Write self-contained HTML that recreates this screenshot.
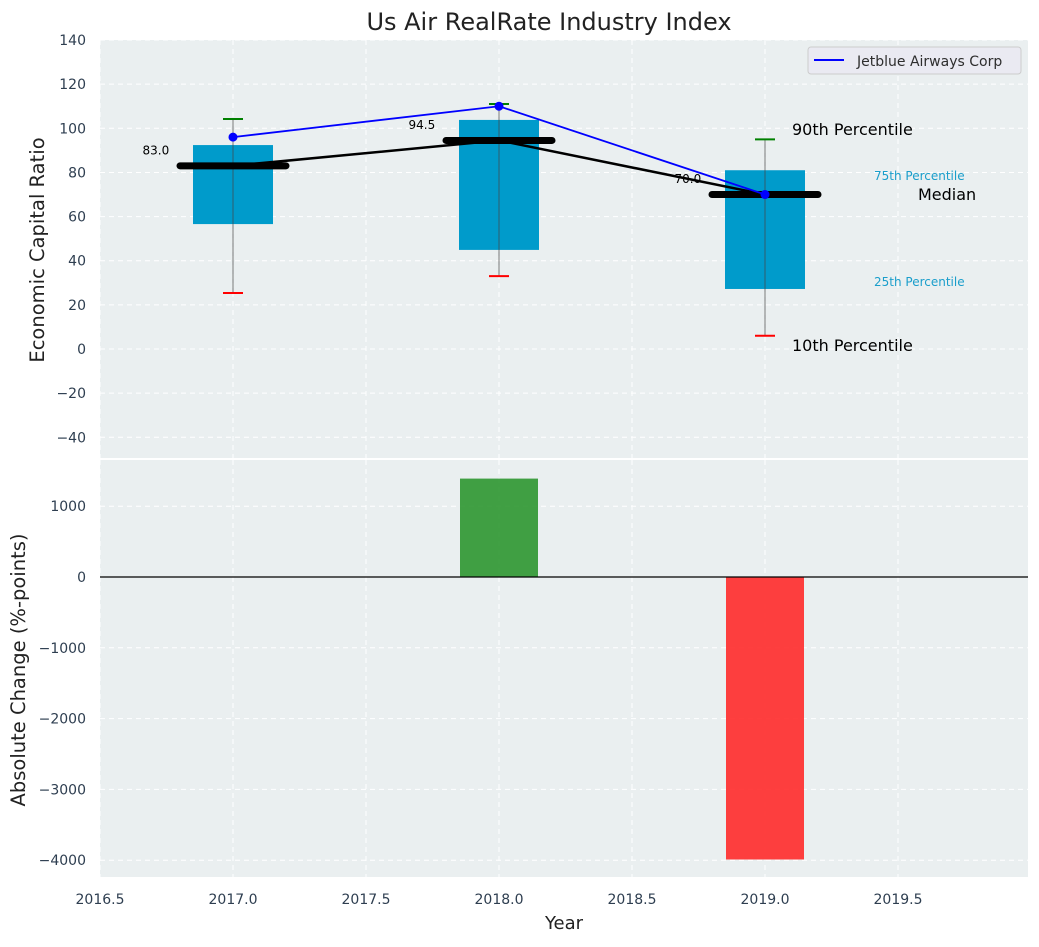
<!DOCTYPE html>
<html><head><meta charset="utf-8"><style>
body{margin:0;background:#fff;font-family:"Liberation Sans","DejaVu Sans",sans-serif}
svg text{font-family:"DejaVu Sans","Liberation Sans",sans-serif}
</style></head><body>
<svg id="c" width="1039" height="942" xmlns="http://www.w3.org/2000/svg"></svg>
<script>
const years=[2017,2018,2019];
const p10=[25.4,33,6];
const p25=[56.6,44.9,27.2];
const p50=[83,94.5,70];
const p75=[92.4,103.8,81];
const p90=[104.2,111,95];
const company=[96,110,70];
const change=[0,1390,-3990];
const topTicks=[-40,-20,0,20,40,60,80,100,120,140];
const botTicks=[-4000,-3000,-2000,-1000,0,1000];
const xTicks=[2016.5,2017,2017.5,2018,2018.5,2019,2019.5];

const svg=document.getElementById('c');const NS='http://www.w3.org/2000/svg';
function el(t,a,txt,parent){const e=document.createElementNS(NS,t);for(const k in a)e.setAttribute(k,a[k]);if(txt!==undefined)e.textContent=txt;(parent||svg).appendChild(e);return e;}
const L=100,R=1028;
const X=v=>L+(v-2016.5)*266;
const T1=40,B1=458,Y1=v=>349-v*2.207;
const T2=460,B2=877,Y2=v=>577-v*0.0708;

let e=el('rect',{x:L,y:T1,width:R-L,height:B1-T1,fill:'#eaeff0'});

e=el('rect',{x:L,y:T2,width:R-L,height:B2-T2,fill:'#eaeff0'});


xTicks.forEach(v=>{
 el('line',{x1:X(v),x2:X(v),y1:T1,y2:B1,stroke:'#fff','stroke-dasharray':'5,4','stroke-width':1});
 el('line',{x1:X(v),x2:X(v),y1:T2,y2:B2,stroke:'#fff','stroke-dasharray':'5,4','stroke-width':1});
 e=el('text',{x:X(v),y:904,'text-anchor':'middle','font-size':14,fill:'#2e3e50'},v.toFixed(1));
 
});
topTicks.forEach(v=>{
 el('line',{x1:L,x2:R,y1:Y1(v),y2:Y1(v),stroke:'#fff','stroke-dasharray':'5,4'});
 e=el('text',{x:L-14,y:Y1(v)+5,'text-anchor':'end','font-size':14,fill:'#2e3e50'},v<0?'\u2212'+(-v):v);
 
});
botTicks.forEach(v=>{
 el('line',{x1:L,x2:R,y1:Y2(v),y2:Y2(v),stroke:'#fff','stroke-dasharray':'5,4'});
 e=el('text',{x:L-14,y:Y2(v)+5,'text-anchor':'end','font-size':14,fill:'#2e3e50'},v<0?'\u2212'+(-v):v);
 
});

years.forEach((yr,i)=>{
 const cx=X(yr);
 e=el('rect',{x:cx-40,y:Y1(p75[i]),width:80,height:Y1(p25[i])-Y1(p75[i]),fill:'#009bcb'});
 
 el('line',{x1:cx,x2:cx,y1:Y1(p90[i]),y2:Y1(p10[i]),stroke:'#444','stroke-opacity':0.7,'stroke-width':1});
 e=el('line',{x1:cx-10,x2:cx+10,y1:Y1(p90[i]),y2:Y1(p90[i]),stroke:'green','stroke-width':2});
 
 e=el('line',{x1:cx-10,x2:cx+10,y1:Y1(p10[i]),y2:Y1(p10[i]),stroke:'red','stroke-width':2});
 
});
e=el('polyline',{points:years.map((y,i)=>X(y)+','+Y1(p50[i])).join(' '),fill:'none',stroke:'#000','stroke-width':2.5});

years.forEach((yr,i)=>{
 e=el('line',{x1:X(yr)-53,x2:X(yr)+53,y1:Y1(p50[i]),y2:Y1(p50[i]),stroke:'#000','stroke-width':7,'stroke-linecap':'round'});
 
 e=el('text',{x:X(yr-0.29),y:Y1(p50[i]+7)+4,'text-anchor':'middle','font-size':12,fill:'#000'},p50[i].toFixed(1));
 
});
e=el('polyline',{points:years.map((y,i)=>X(y)+','+Y1(company[i])).join(' '),fill:'none',stroke:'#0000ff','stroke-width':1.8});

years.forEach((yr,i)=>{
 e=el('circle',{cx:X(yr),cy:Y1(company[i]),r:4.5,fill:'#0000ff'});
 
});
[['90th Percentile',792,135,16,'#000'],['75th Percentile',874,180,12,'#1a9ecb'],['Median',918,200,16,'#000'],['25th Percentile',874,286,12,'#1a9ecb'],['10th Percentile',792,351,16,'#000']].forEach(a=>{
 e=el('text',{x:a[1],y:a[2],'font-size':a[3],fill:a[4]},a[0]);
 
});
const lg=el('g',{});

el('rect',{x:808,y:47,width:213,height:27,rx:3,fill:'#eaeaf2',stroke:'#ccc'},undefined,lg);
el('line',{x1:814,x2:844,y1:60,y2:60,stroke:'#00f','stroke-width':2},undefined,lg);
el('text',{x:857,y:66,'font-size':14,fill:'#2e2e2e'},'Jetblue Airways Corp',lg);

years.forEach((yr,i)=>{
 const v=change[i];if(!v)return;
 e=el('rect',{x:X(yr)-39,y:Math.min(Y2(v),Y2(0)),width:78,height:Math.abs(Y2(v)-Y2(0)),fill:v>0?'#2e9630':'#ff2a2a','fill-opacity':0.9});
 
});
el('line',{x1:L,x2:R,y1:Y2(0),y2:Y2(0),stroke:'#000','stroke-width':1.3});

e=el('text',{x:549,y:30,'text-anchor':'middle','font-size':24,fill:'#222'},'Us Air RealRate Industry Index');

e=el('text',{x:564,y:929,'text-anchor':'middle','font-size':18,fill:'#222'},'Year');

e=el('text',{x:44,y:250,'text-anchor':'middle','font-size':19.5,fill:'#222',transform:'rotate(-90 44 250)'},'Economic Capital Ratio');

e=el('text',{x:25,y:670,'text-anchor':'middle','font-size':19.5,fill:'#222',transform:'rotate(-90 25 670)'},'Absolute Change (%-points)');

</script>
</body></html>
